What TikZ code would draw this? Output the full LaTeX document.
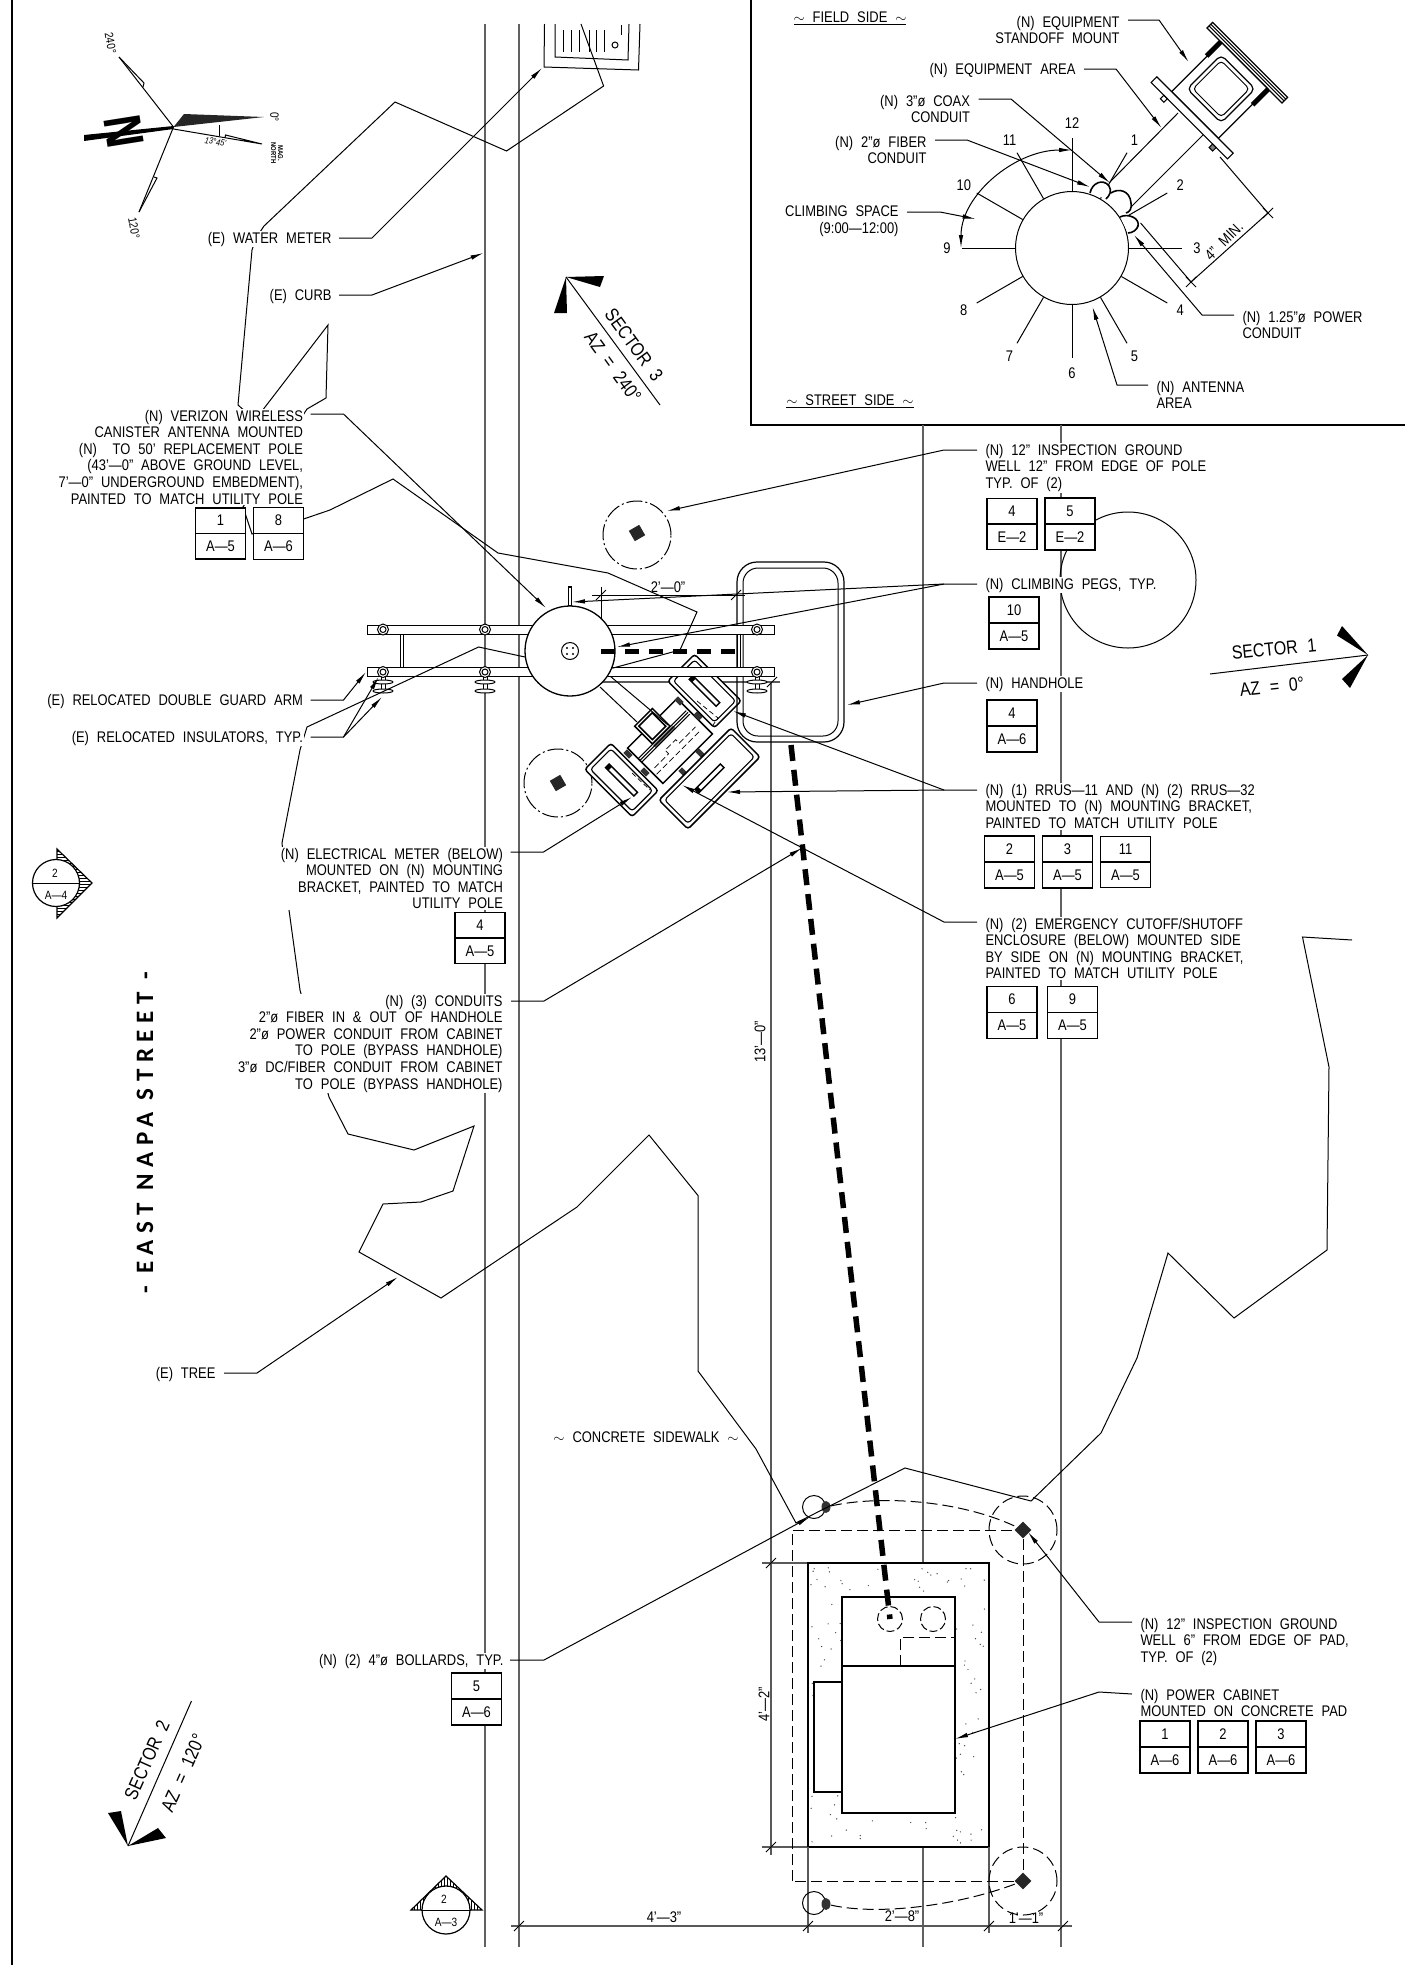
\documentclass[tikz,border=0pt]{standalone}
\usepackage{fontspec}
\setmainfont[FakeStretch=0.84,WordSpace=2.2]{Liberation Sans}
\newfontfamily\streetfont[LetterSpace=26.5]{Carlito}
\usetikzlibrary{arrows.meta,shapes.geometric,shapes.multipart,patterns}
\newcommand{\lblfont}{\fontsize{15.4}{16.6}\selectfont}
\newcommand{\tinyfont}{\fontsize{12}{13}\selectfont}
\tikzstyle{arrow} = [-{Latex[length=13pt,width=4.5pt]}]
\tikzstyle{bothtips} = [{Latex[length=13pt,width=4.5pt]}-{Latex[length=13pt,width=4.5pt]}]
\tikzstyle{lblr} = [anchor=north east, align=right, fill=white, inner sep=1pt, yshift=-1.5pt, font=\lblfont]
\tikzstyle{lbll} = [anchor=north west, align=left, fill=white, inner sep=1pt, yshift=-1.5pt, font=\lblfont]
\tikzstyle{plain} = [inner sep=0pt, font=\lblfont]
\tikzstyle{sect} = [inner sep=0pt, font=\fontsize{19}{19}\selectfont]
\tikzstyle{refbox} = [draw, line width=1.6, fill=white, rectangle split, rectangle split parts=2, minimum width=50, inner ysep=6.7, inner xsep=1, font=\lblfont]
\tikzstyle{curb} = [line width=1.5, black!62]
\tikzstyle{dimline} = [line width=1.2, black!65]
\tikzstyle{encl} = [line width=1.5, fill=white]
\tikzstyle{rail} = [line width=1, fill=white]
\tikzstyle{longdash} = [dash pattern=on 11pt off 5pt]
\tikzstyle{welldash} = [draw, circle, minimum size=68, inner sep=0pt, dash pattern=on 11pt off 5pt]
\tikzstyle{welldot} = [draw, circle, minimum size=68, inner sep=0pt, dash pattern=on 16pt off 3pt on 2pt off 3pt]
\tikzstyle{wellcore} = [diamond, fill=black!85, minimum size=17, inner sep=0pt]
\tikzstyle{wellsq} = [rectangle, fill=black!85, minimum size=12, inner sep=0pt, rotate=30]
\tikzstyle{knob} = [rectangle, fill=black!80, minimum width=8, minimum height=5, inner sep=0pt, rotate=-45]
\newcommand{\enclosure}[6]{
	\begin{scope}[shift={(#1,#2)}, rotate=#3]
		\draw [encl, rounded corners=3] (-#4/2,-#5/2) rectangle (#4/2,#5/2);
		\draw [line width=1.1, rounded corners=3] (-#4/2+4,-#5/2+4) rectangle (#4/2-4,#5/2-4);
		\draw [line width=1.4, fill=white] (-#6/2,-2.6) rectangle (#6/2,2.6);
		\fill (-#6/2,-2.6) rectangle (-#6/2+4,2.6);
	\end{scope}
}
\begin{document}
\begin{tikzpicture}[x=1pt, y=-1pt, line width=1]
	\useasboundingbox (0,0) rectangle (1405,1965);

	\draw [line width=2.5] (12,0) -- (12,1965);
	\draw [line width=1.4] (751,0) -- (751,425) -- (1405,425);

	\draw [curb] (485,24) -- (485,1947);
	\draw [curb] (519,24) -- (519,1947);
	\draw [curb] (923,425) -- (923,1947);
	\draw [curb] (1061,425) -- (1061,1947);

	\draw (1128,580) circle (68);

	\draw (544.5,24) -- (544,67) -- (638.5,70) -- (640,24);
	\draw (555,24) -- (555,57) -- (628,60) -- (629,24);
	\foreach \hx in {563,571,579,589,596,604} {\draw (\hx,30) -- (\hx,52);}
	\draw (621,25) -- (621,35);
	\draw (615,45) circle (3);

	\draw [dimline] (771,682) -- (771,1855);
	\draw [dimline] (575,682) -- (780,682);
	\draw [dimline] (762,1563) -- (808,1563);
	\draw [dimline] (762,1847) -- (808,1847);
	\draw [dimline] (511,1926) -- (1072,1926);
	\draw (592,595) -- (745,595);
	\draw (601,587) -- (601,645);

	\draw [line width=1.2, fill=white] (808,1563) rectangle (989,1847);
	\draw [dimline] (808,1847) -- (808,1933);
	\draw [dimline] (989,1847) -- (989,1933);
	\pgfmathsetseed{11}
	\foreach \i in {1,...,230} {
		\pgfmathsetmacro\sx{811+175*rnd}
		\pgfmathsetmacro\sy{1567+276*rnd}
		\fill [black!70] (\sx,\sy) circle (0.7);
	}
	\draw [fill=white, line width=1.2] (814,1682) rectangle (842,1792);
	\draw [fill=white, line width=1.2] (842,1597) rectangle (955,1666);
	\draw [fill=white, line width=1.2] (842,1666) rectangle (955,1813);
	\draw [longdash] (900,1666) -- (900,1637) -- (955,1637);
	\node (cond1) [draw, circle, minimum size=25, inner sep=0pt, dash pattern=on 8pt off 3pt] at (890,1619) {};
	\node (cond2) [draw, circle, minimum size=25, inner sep=0pt, dash pattern=on 8pt off 3pt] at (933,1619) {};

	\node (well1) [welldash] at (1023,1530) {};
	\node (well2) [welldash] at (1023,1881) {};
	\node (core1) [wellcore] at (1023,1530) {};
	\node (core2) [wellcore] at (1023,1881) {};
	\draw [longdash] (792,1881) -- (792,1530) -- (core1);
	\draw [longdash] (core1) -- (core2) -- (792,1881);
	\node (boll1) [draw, circle, minimum size=23, inner sep=0pt] at (814,1507) {};
	\node (boll2) [draw, circle, minimum size=23, inner sep=0pt] at (814,1903) {};
	\node (bollc1) [ellipse, fill=black!80, minimum width=9, minimum height=12, inner sep=0pt] at (826,1507) {};
	\node (bollc2) [ellipse, fill=black!80, minimum width=9, minimum height=12, inner sep=0pt] at (826,1904) {};
	\draw [longdash] (bollc1) .. controls (880,1495) and (960,1500) .. (core1);
	\draw [longdash] (bollc2) .. controls (880,1916) and (960,1905) .. (core2);

	\node (well3) [welldot] at (637,535) {};
	\node (wsq3) [wellsq] at (637,533) {};
	\node (well4) [welldot] at (558,783) {};
	\node (wsq4) [wellsq] at (558,783) {};

	\begin{scope}[shift={(670,741)}, rotate=45]
		\draw [encl] (-35,-25) rectangle (35,25);
		\draw [line width=0.8, dash pattern=on 6pt off 3pt] (-33,14) -- (28,14);
		\draw [line width=0.7, dash pattern=on 6pt off 3pt] (-30,8) -- (-10,8) -- (-10,3) -- (5,3) -- (5,8) -- (28,8);
		\fill [black!60] (-15,-9) rectangle (13,-5);
		\draw [line width=1] (-35,-10) -- (33,-10);
		\draw [line width=1] (-35,-7.5) -- (33,-7.5);
		\draw [line width=1] (-35,-5) -- (33,-5);
		\draw [encl] (-14.5,-35.5) rectangle (10.5,-10.5);
		\draw [line width=1.6] (-11.5,-32.5) rectangle (7.5,-13.5);
	\end{scope}
	\draw (600,687) -- (637,722);
	\draw (610,676) -- (668,725);
	\foreach \k/\p in {1/{(679,701)},2/{(698,716)},3/{(700,753)},4/{(683,772)},5/{(628,754)},6/{(645,772)}} {
		\node (knob\k) [knob] at \p {};
	}
	\enclosure{704.5}{691}{-45}{66}{38}{38}
	\enclosure{621.5}{780}{-45}{67}{37}{40}
	\enclosure{709.5}{778.5}{45}{102}{41}{36}
	\draw [line width=0.7, dash pattern=on 5pt off 3pt] (697,701) -- (718,718) -- (713,725);
	\draw [line width=0.7, dash pattern=on 5pt off 3pt] (632,773) -- (650,790);

	\draw [line width=1.2, rounded corners=20] (737,562) rectangle (844,742);
	\draw [line width=1, rounded corners=15] (743,568) rectangle (838,736);

	\draw [rail] (367,625) rectangle (774,634);
	\draw [rail] (367,667) rectangle (774,676);
	\draw [fill=white] (400.5,634) rectangle (403.5,667);
	\draw [fill=white] (737.5,634) rectangle (740.5,667);
	\foreach \bx in {383,485,757} {
		\draw [fill=white] (\bx-2,676) rectangle (\bx+2,692);
		\draw [fill=white] (\bx,682) ellipse (10 and 2);
		\draw [fill=white] (\bx,691) ellipse (10 and 2);
		\draw [fill=white] (\bx,629.5) circle (5.5);
		\draw (\bx,629.5) circle (3);
		\draw [fill=white] (\bx,672) circle (5.5);
		\draw (\bx,672) circle (3);
	}

	\draw (581,24) -- (603.6,86) -- (506.5,151) -- (395,102) -- (264,226) -- (256,238) -- (252,250) -- (238,405) -- (255,420) -- (272,398) -- (328,325) -- (326,398) -- (307,409) -- (243,507) -- (252,534) -- (303.6,519) -- (330,510) -- (393,479) -- (498,553) -- (608,573) -- (697,612) -- (680,650) -- (613,668) -- (525,657) -- (478.6,647) -- (307,727) -- (300,750) -- (282,843) -- (289,910) -- (300,990) -- (329,1097) -- (348,1134) -- (414,1150) -- (474,1126) -- (453,1191) -- (421,1202) -- (383,1204) -- (359,1252) -- (441,1298) -- (577,1207) -- (649,1135) -- (698,1195.5) -- (698,1371) -- (756,1449) -- (796,1523) -- (905,1468) -- (1031,1501) -- (1101,1433) -- (1137,1358) -- (1168,1253) -- (1234,1318) -- (1327,1250) -- (1329,1067) -- (1302.5,937) -- (1352,940);

	\draw [fill=white, line width=1.2] (568.5,587) rectangle (571.5,606);
	\node (pole) [draw, circle, fill=white, minimum size=90, inner sep=0pt, line width=1.3] at (570,651) {};
	\node (polecap) [draw, circle, minimum size=17, inner sep=0pt] at (570,651) {};
	\foreach \dx/\dy in {-3/-3,3/-3,-3/3,3/3} {\fill (570+\dx,651+\dy) circle (1.2);}

	\draw [line width=5, dash pattern=on 14pt off 10pt] (601,651) -- (738,651);
	\draw [line width=5.5, dash pattern=on 16pt off 9pt] (791,745) -- (890,1619);

	\coordinate (d1) at (601,595);
	\coordinate (d2) at (736,595);
	\coordinate (d3) at (772,682);
	\coordinate (d4) at (771,1563);
	\coordinate (d5) at (771,1847);
	\coordinate (d6) at (519,1926);
	\coordinate (d7) at (808,1926);
	\coordinate (d8) at (989,1926);
	\coordinate (d9) at (1063,1926);
	\foreach \p in {d1,d2,d3,d4,d5,d6,d7,d8,d9} {\draw (\p) ++(-5,5) -- ++(10,-10);}

	\node (dim20) [plain, fill=white] at (668,587) {2'---0"};
	\node (dim130) [plain, rotate=90] at (760,1042) {13'---0"};
	\node (dim42) [plain, rotate=90] at (764,1704) {4'---2"};
	\node (dim43) [plain] at (664,1917) {4'---3"};
	\node (dim28) [plain] at (902,1916) {2'---8"};
	\node (dim11) [plain] at (1026,1918) {1'---1"};

	\node (street) [font=\streetfont\bfseries\fontsize{25}{25}\selectfont, rotate=90, inner sep=0pt] at (145,1133) {- EAST NAPA STREET -};

	\fill [black!85] (184,114) -- (264,117) -- (173.5,127) -- cycle;
	\fill (84,135) -- (173.5,126) -- (173.5,129) -- (84,141) -- cycle;
	\node (northn) [font=\bfseries\fontsize{53}{53}\selectfont, rotate=-81, inner sep=0pt] at (124,132) {N};
	\draw (119,57) -- (173.5,127) -- (139,212);
	\draw (173.5,129) -- (262,144) -- (225.5,135) -- (225,138);
	\draw (119,57) -- (144,83) -- (143,87);
	\draw (139,212) -- (157,178) -- (154,177);
	\draw (219,125) -- (219,136);
	\node (n240) [font=\tinyfont, rotate=-80, inner sep=0pt] at (110.5,43) {240°};
	\node (n120) [font=\tinyfont, rotate=-80, inner sep=0pt] at (134,228) {120°};
	\node (n0) [font=\tinyfont, rotate=-90, inner sep=0pt] at (274.5,117) {0°};
	\node (ndec) [font=\fontsize{9}{9}\selectfont\itshape, rotate=-10, inner sep=0pt] at (215.5,142) {13°45'};
	\node (nmag) [font=\bfseries\fontsize{7}{7}\selectfont, rotate=-90, inner sep=0pt, align=center] at (277,153) {MAG.\\NORTH};

	\coordinate (s3tip) at (566,277);
	\coordinate (s3end) at (660,405);
	\draw (s3tip) -- (s3end);
	\fill (s3tip) -- (604,276) -- (600,287) -- cycle;
	\fill (s3tip) -- (554,313) -- (567,313) -- cycle;
	\node (s3a) [sect, rotate=-54] at (634,345) {SECTOR 3};
	\node (s3b) [sect, rotate=-54] at (613,367) {AZ = 240°};

	\coordinate (s1tip) at (1368,655);
	\coordinate (s1end) at (1210,674);
	\draw (s1tip) -- (s1end);
	\fill (s1tip) -- (1337,635.5) -- (1342,626) -- cycle;
	\fill (s1tip) -- (1342,679) -- (1350,688) -- cycle;
	\node (s1a) [sect, rotate=6] at (1274,649) {SECTOR 1};
	\node (s1b) [sect, rotate=6] at (1272,687) {AZ = 0°};

	\coordinate (s2tip) at (128,1846);
	\coordinate (s2end) at (191.5,1701);
	\draw (s2tip) -- (s2end);
	\fill (s2tip) -- (108,1813) -- (121,1811) -- cycle;
	\fill (s2tip) -- (166,1838) -- (158,1828) -- cycle;
	\node (s2a) [sect, rotate=66] at (147,1760) {SECTOR 2};
	\node (s2b) [sect, rotate=66] at (183,1773) {AZ = 120°};

	\draw [pattern=vertical lines, line width=1.2] (446,1876) -- (482,1910) -- (411,1910) -- cycle;
	\node (sec3) [draw, circle, fill=white, minimum size=48, inner sep=0pt, line width=1.2] at (446,1910) {};
	\draw (sec3.west) -- (sec3.east);
	\node (sec3a) [font=\tinyfont, inner sep=0pt] at (444,1899) {2};
	\node (sec3b) [font=\tinyfont, inner sep=0pt] at (446,1922) {A---3};

	\draw [pattern=horizontal lines, line width=1.2] (92,883) -- (57,918) -- (57,849) -- cycle;
	\node (sec4) [draw, circle, fill=white, minimum size=47, inner sep=0pt, line width=1.2] at (56,883) {};
	\draw (sec4.west) -- (sec4.east);
	\node (sec4a) [font=\tinyfont, inner sep=0pt] at (55,873) {2};
	\node (sec4b) [font=\tinyfont, inner sep=0pt] at (56,895) {A---4};

	\node (lmeter) [lblr] at (333,229) {(E) WATER METER};
	\coordinate (tmeter) at (542,68);
	\draw [arrow] (lmeter.north east) ++(6,7.5) -- (372,238) -- (tmeter);

	\node (lcurb) [lblr] at (333,286) {(E) CURB};
	\coordinate (tcurb) at (483.5,253);
	\draw [arrow] (lcurb.north east) ++(6,7.5) -- (372,295) -- (tcurb);

	\node (lcanister) [lblr] at (304.5,407) {(N) VERIZON WIRELESS\\CANISTER ANTENNA MOUNTED\\(N)\ \ TO 50' REPLACEMENT POLE\\(43'---0" ABOVE GROUND LEVEL,\\7'---0" UNDERGROUND EMBEDMENT),\\PAINTED TO MATCH UTILITY POLE};
	\coordinate (tcanister) at (546,608);
	\draw [arrow] (lcanister.north east) ++(6,5.5) -- (343.5,414) -- (tcanister);
	\node (r1a5) [refbox] at (220.5,533.5) {1 \nodepart{two} A---5};
	\node (r8a6) [refbox] at (278.5,533.5) {8 \nodepart{two} A---6};

	\node (lguard) [lblr] at (304.5,691) {(E) RELOCATED DOUBLE GUARD ARM};
	\coordinate (tguard) at (366,672);
	\draw [arrow] (lguard.north east) ++(6,7.5) -- (343.5,700) -- (tguard);

	\node (linsul) [lblr] at (304.5,728) {(E) RELOCATED INSULATORS, TYP.};
	\coordinate (tinsul1) at (378.6,677);
	\coordinate (tinsul2) at (382,697);
	\draw [arrow] (linsul.north east) ++(6,7.5) -- (343.5,737) -- (tinsul1);
	\draw [arrow] (343.5,737) -- (tinsul2);

	\node (lelec) [lblr] at (504.5,845) {(N) ELECTRICAL METER (BELOW)\\MOUNTED ON (N) MOUNTING\\BRACKET, PAINTED TO MATCH\\UTILITY POLE};
	\coordinate (telec) at (632,797);
	\draw [arrow] (lelec.north east) ++(6,5.5) -- (543.5,852) -- (telec);
	\node (r4a5) [refbox] at (480,938) {4 \nodepart{two} A---5};

	\node (lcond) [lblr] at (504,992) {(N) (3) CONDUITS\\2"ø FIBER IN \& OUT OF HANDHOLE\\2"ø POWER CONDUIT FROM CABINET\\TO POLE (BYPASS HANDHOLE)\\3"ø DC/FIBER CONDUIT FROM CABINET\\TO POLE (BYPASS HANDHOLE)};
	\coordinate (tcond) at (802,848);
	\draw [arrow] (lcond.north east) ++(7,7.5) -- (544,1001) -- (tcond);

	\node (ltree) [lblr] at (217,1364) {(E) TREE};
	\coordinate (ttree) at (398,1277);
	\draw [arrow] (ltree.north east) ++(7,7.5) -- (257,1373) -- (ttree);

	\node (lwalk) [plain] at (646,1437) {$\sim$ CONCRETE SIDEWALK $\sim$};

	\node (lboll) [lblr] at (505,1651) {(N) (2) 4"ø BOLLARDS, TYP.};
	\coordinate (tboll) at (810,1517);
	\draw [arrow] (lboll.north east) ++(5,7.5) -- (544,1660) -- (tboll);
	\node (r5a6) [refbox] at (476.5,1699) {5 \nodepart{two} A---6};

	\node (lgnd) [lbll] at (984,441) {(N) 12" INSPECTION GROUND\\WELL 12" FROM EDGE OF POLE\\TYP. OF (2)};
	\coordinate (tgnd) at (667,511);
	\draw [arrow] (lgnd.north west) ++(-7,7.5) -- (944,450) -- (tgnd);
	\node (r4e2) [refbox] at (1012,524) {4 \nodepart{two} E---2};
	\node (r5e2) [refbox] at (1070,524) {5 \nodepart{two} E---2};

	\node (lpegs) [lbll] at (984,575) {(N) CLIMBING PEGS, TYP.};
	\coordinate (tpegs1) at (572,602);
	\coordinate (tpegs2) at (617,647);
	\draw [arrow] (lpegs.north west) ++(-7,7.5) -- (944,584) -- (tpegs1);
	\draw [arrow] (944,584) -- (tpegs2);
	\node (r10a5) [refbox] at (1014,623) {10 \nodepart{two} A---5};

	\node (lhand) [lbll] at (984,674) {(N) HANDHOLE};
	\coordinate (thand) at (847,705);
	\draw [arrow] (lhand.north west) ++(-7,7.5) -- (944,683) -- (thand);
	\node (r4a6) [refbox] at (1012,726) {4 \nodepart{two} A---6};

	\node (lrrus) [lbll] at (984,781) {(N) (1) RRUS---11 AND (N) (2) RRUS---32\\MOUNTED TO (N) MOUNTING BRACKET,\\PAINTED TO MATCH UTILITY POLE};
	\coordinate (trrus1) at (733,711);
	\coordinate (trrus2) at (727,792);
	\draw [arrow] (lrrus.north west) ++(-7,7.5) -- (944,790) -- (trrus1);
	\draw [arrow] (944,790) -- (trrus2);
	\node (r2a5) [refbox] at (1009.5,862) {2 \nodepart{two} A---5};
	\node (r3a5) [refbox] at (1067.5,862) {3 \nodepart{two} A---5};
	\node (r11a5) [refbox] at (1125.5,862) {11 \nodepart{two} A---5};

	\node (lcutoff) [lbll] at (984,915) {(N) (2) EMERGENCY CUTOFF/SHUTOFF\\ENCLOSURE (BELOW) MOUNTED SIDE\\BY SIDE ON (N) MOUNTING BRACKET,\\PAINTED TO MATCH UTILITY POLE};
	\coordinate (tcutoff) at (682,785);
	\draw [arrow] (lcutoff.north west) ++(-7,5.5) -- (944,922) -- (tcutoff);
	\node (r6a5) [refbox] at (1012,1012.5) {6 \nodepart{two} A---5};
	\node (r9a5) [refbox] at (1072.5,1012.5) {9 \nodepart{two} A---5};

	\node (lwell) [lbll] at (1139,1615) {(N) 12" INSPECTION GROUND\\WELL 6" FROM EDGE OF PAD,\\TYP. OF (2)};
	\coordinate (twell) at (1028,1532);
	\draw [arrow] (lwell.north west) ++(-7,5.5) -- (1099,1622) -- (twell);

	\node (lcab) [lbll] at (1139,1686) {(N) POWER CABINET\\MOUNTED ON CONCRETE PAD};
	\coordinate (tcab) at (955,1739);
	\draw [arrow] (lcab.north west) ++(-7,6.5) -- (1099,1692) -- (tcab);
	\node (r1a6) [refbox] at (1165,1747) {1 \nodepart{two} A---6};
	\node (r2a6) [refbox] at (1223,1747) {2 \nodepart{two} A---6};
	\node (r3a6) [refbox] at (1281,1747) {3 \nodepart{two} A---6};

	\node (field) [plain] at (850,18) {\underline{$\sim$ FIELD SIDE $\sim$}};
	\node (sside) [plain] at (850,401) {\underline{$\sim$ STREET SIDE $\sim$}};

	\coordinate (inpole) at (1072,248);
	\foreach \h in {1,...,12} {
		\pgfmathsetmacro\ha{\h*30-90}
		\draw (inpole) ++(\ha:57) -- ++(\ha:53) ++(\ha:15) node (hour\h) [plain] {\h};
	}
	\draw (1178,113) -- (1109,183);
	\draw (1203,135) -- (1128,210);
	\draw (1220,157) -- (1268,213);
	\draw (1140.6,223) -- (1191,282);
	\coordinate (m1) at (1191,282);
	\coordinate (m2) at (1268,213);
	\draw (m1) -- (m2);
	\draw (m1) ++(-5,-5) -- ++(10,10);
	\draw (m1) ++(-5,5) -- ++(10,-10);
	\draw (m2) ++(-5,-5) -- ++(10,10);
	\draw (m2) ++(-5,5) -- ++(10,-10);
	\node (min4) [plain, rotate=45] at (1224,241) {4" MIN.};

	\node (inset) [draw, circle, fill=white, minimum size=113, inner sep=0pt] at (inpole) {};
	\draw [line width=1.6, fill=white] (1090,193) .. controls (1092,183) and (1103,178) .. (1109,186) .. controls (1112,191) and (1110,195) .. (1106,199);
	\draw [line width=1.6, fill=white] (1111,193) .. controls (1118,188) and (1130,190) .. (1131,203) .. controls (1132,208) and (1130,212) .. (1126,213);
	\draw [line width=1.6, fill=white] (1120,217) .. controls (1128,213) and (1140,218) .. (1138,226) .. controls (1137,230) and (1132,233) .. (1128,233);
	\draw [bothtips] (961,248) .. controls (961,195) and (1015,150) .. (1072,150);

	\begin{scope}[shift={(1219,91)}, rotate=-45]
		\draw [line width=1.2, fill=white] (-53,-44) rectangle (53,-36);
		\draw (-53,-41.5) -- (53,-41.5);
		\draw (-53,-39) -- (53,-39);
		\draw [line width=1.2, fill=white] (-33,-36) rectangle (33,34);
		\draw [line width=1.2, rounded corners=5] (-24,-27) rectangle (24,21);
		\draw [line width=1, rounded corners=4] (-20,-23) rectangle (20,17);
		\fill (-36,-36) rectangle (-31,-16);
		\fill (31,-36) rectangle (36,-14);
		\draw [line width=1.2, fill=white] (-54,34) rectangle (54,42);
		\draw (-36,42) rectangle (-31,47);
		\draw [fill=black!50] (33,42) rectangle (38,47);
	\end{scope}

	\node (lstand) [lblr] at (1121,13) {(N) EQUIPMENT\\STANDOFF MOUNT};
	\coordinate (tstand) at (1188.6,62);
	\draw [arrow] (lstand.north east) ++(7,5.5) -- (1159,20) -- (tstand);

	\node (larea) [lblr] at (1077,60) {(N) EQUIPMENT AREA};
	\coordinate (tarea) at (1161.5,128);
	\draw [arrow] (larea.north east) ++(7,7.5) -- (1116,69) -- (tarea);

	\node (lcoax) [lblr] at (971.5,92) {(N) 3"ø COAX\\CONDUIT};
	\coordinate (tcoax) at (1110,183);
	\draw [arrow] (lcoax.north east) ++(7,5.5) -- (1011,99) -- (tcoax);

	\node (lfiber) [lblr] at (928,133) {(N) 2"ø FIBER\\CONDUIT};
	\coordinate (tfiber) at (1090,187);
	\draw [arrow] (lfiber.north east) ++(7,5.5) -- (967,140) -- (tfiber);

	\node (lclimb) [lblr] at (900,203) {CLIMBING SPACE\\(9:00---12:00)};
	\coordinate (tclimb) at (975.6,219);
	\draw [arrow] (lclimb.north east) ++(7,7.5) -- (940,212) -- (tclimb);

	\node (lpower) [lbll] at (1241,308) {(N) 1.25"ø POWER\\CONDUIT};
	\coordinate (tpower) at (1134,235);
	\draw [arrow] (lpower.north west) ++(-7,5.5) -- (1202,315) -- (tpower);

	\node (lant) [lbll] at (1155,378) {(N) ANTENNA\\AREA};
	\coordinate (tant) at (1092.5,307);
	\draw [arrow] (lant.north west) ++(-7,5.5) -- (1117,385) -- (tant);
\end{tikzpicture}
\end{document}
